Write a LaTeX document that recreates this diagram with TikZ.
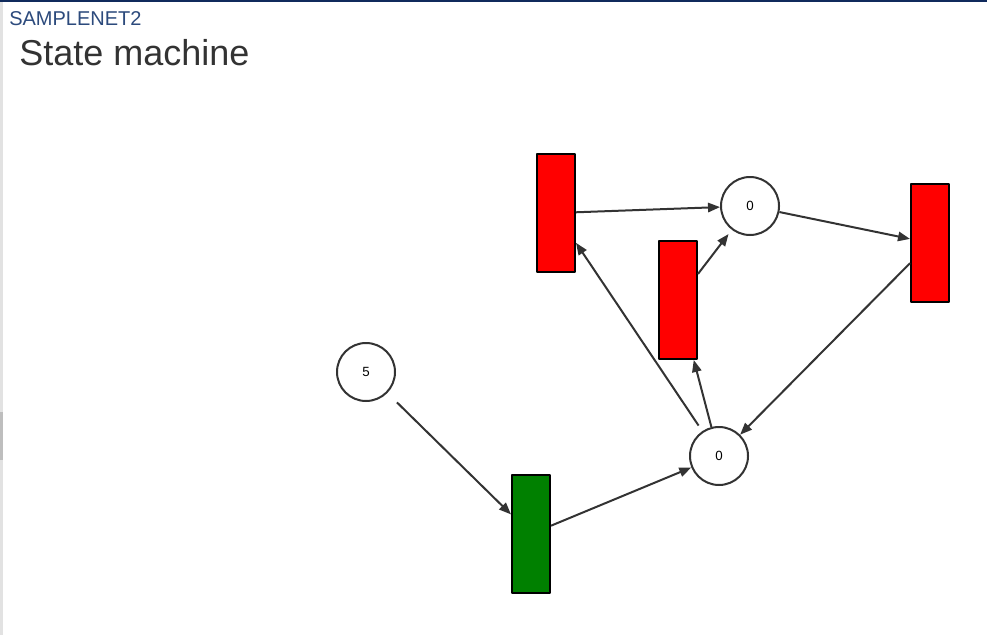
\documentclass[tikz,border=0pt]{standalone}
\usepackage{fontspec}
\setmainfont{Liberation Sans}
\usepackage{tikz}
\usetikzlibrary{arrows.meta}
\definecolor{navy}{RGB}{16,42,92}
\definecolor{titleblue}{RGB}{44,74,124}
\definecolor{inkgray}{RGB}{51,51,51}
\definecolor{tred}{RGB}{255,0,0}
\definecolor{tgreen}{RGB}{0,128,0}
\definecolor{barlight}{RGB}{226,226,226}
\definecolor{bardark}{RGB}{190,190,190}

\begin{document}
\begin{tikzpicture}[x=0.75pt, y=-0.75pt, line join=round, >={Triangle[length=9pt,width=7pt]},
    place/.style={circle, draw=inkgray, line width=1.5pt, minimum size=43.5pt, inner sep=0pt,
                  font=\fontsize{10}{12}\selectfont},
    trans/.style={rectangle, draw=black, line width=1.5pt, minimum width=28.5pt,
                  minimum height=88.5pt, inner sep=0pt},
    flow/.style={->, draw=inkgray, line width=1.5pt}]
    \useasboundingbox (0,0) rectangle (987,635);

    % page frame
    \fill[navy] (0,0) rectangle (987,2);
    \fill[barlight] (0,2) rectangle (3,635);
    \fill[bardark] (0,412) rectangle (3,460);

    % header
    \node[anchor=base west, inner sep=0pt, text=titleblue, font=\fontsize{15}{18}\selectfont] (net) at (9,26) {SAMPLENET2};
    \node[anchor=base west, inner sep=0pt, text=inkgray, font=\fontsize{27}{32}\selectfont] (title) at (19,65) {State machine};

    % places
    \node[place] (pStart) at (366,372) {5};
    \node[place] (pTop) at (750,206) {0};
    \node[place] (pBot) at (719,456) {0};

    % transitions
    \node[trans, fill=tgreen] (tFire) at (531,534) {};
    \node[trans, fill=tred] (tA) at (556,213) {};
    \node[trans, fill=tred] (tB) at (678,300) {};
    \node[trans, fill=tred] (tC) at (930,243) {};

    % arcs
    \draw[flow, shorten <=10pt] (pStart) -- (tFire);
    \draw[flow] (tFire) -- (pBot);
    \draw[flow, shorten <=5pt] (pBot) -- (tA);
    \draw[flow] (pBot) -- (tB);
    \draw[flow] (tA) -- (pTop);
    \draw[flow, shorten >=4pt] (tB) -- (pTop);
    \draw[flow] (pTop) -- (tC);
    \draw[flow] (tC) -- (pBot);
\end{tikzpicture}
\end{document}
